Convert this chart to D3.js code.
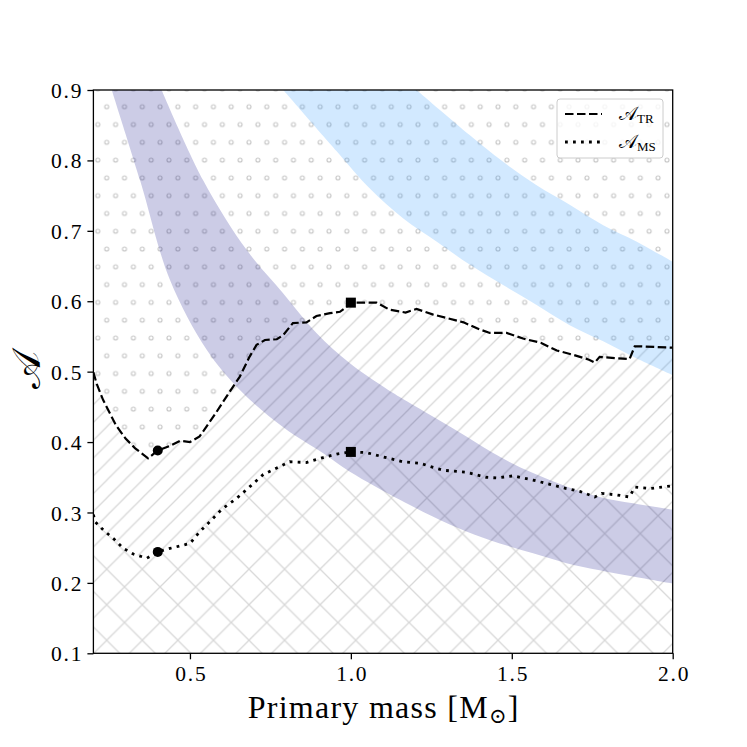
<!DOCTYPE html>
<html><head><meta charset="utf-8">
<script src="https://cdn.jsdelivr.net/npm/d3@7"></script>
<style>body{margin:0;background:#fff}</style>
</head><body>
<svg id="chart" width="747" height="747"></svg>
<script>
// ---------------- data ----------------
const trMass = [0.20,0.21,0.23,0.27,0.30,0.33,0.37,0.40,0.44,0.47,0.50,0.53,0.58,0.62,0.655,0.685,0.707,0.733,0.77,0.79,0.82,0.862,0.893,0.935,0.966,0.981,1.00,1.04,1.08,1.12,1.17,1.204,1.256,1.30,1.35,1.40,1.432,1.484,1.535,1.59,1.64,1.69,1.74,1.758,1.773,1.825,1.866,1.882,1.90,1.95,2.00];
const trA    = [0.499,0.483,0.460,0.424,0.405,0.391,0.377,0.388,0.395,0.402,0.400,0.408,0.441,0.469,0.493,0.521,0.538,0.545,0.546,0.552,0.569,0.570,0.579,0.583,0.585,0.590,0.598,0.598,0.598,0.588,0.584,0.589,0.581,0.576,0.570,0.560,0.555,0.555,0.547,0.541,0.530,0.524,0.517,0.513,0.521,0.519,0.518,0.536,0.536,0.535,0.534];

const msMass = [0.20,0.205,0.231,0.267,0.293,0.324,0.366,0.40,0.438,0.50,0.531,0.562,0.60,0.645,0.687,0.728,0.76,0.81,0.862,0.914,0.956,1.00,1.049,1.10,1.162,1.214,1.256,1.287,1.359,1.421,1.452,1.504,1.566,1.618,1.67,1.711,1.758,1.779,1.825,1.866,1.882,1.929,2.00];
const msA    = [0.297,0.287,0.275,0.261,0.249,0.241,0.235,0.244,0.249,0.256,0.273,0.287,0.305,0.320,0.337,0.354,0.361,0.372,0.371,0.378,0.383,0.386,0.385,0.379,0.372,0.370,0.364,0.360,0.357,0.350,0.349,0.352,0.346,0.340,0.334,0.330,0.322,0.327,0.325,0.322,0.336,0.334,0.338];

const purpleUpMass  = [0.412,0.541,0.676,0.790,0.893,0.997,1.100,1.152,1.256,1.359,1.463,1.566,1.670,1.773,1.877,2.0];
const purpleUpA     = [0.900,0.772,0.673,0.611,0.555,0.512,0.479,0.464,0.436,0.408,0.379,0.356,0.337,0.322,0.313,0.304];
const purpleLowMass = [0.257,0.345,0.438,0.552,0.655,0.790,0.914,0.997,1.152,1.256,1.359,1.463,1.566,1.670,1.773,1.877,2.0];
const purpleLowA    = [0.900,0.772,0.630,0.531,0.474,0.421,0.384,0.358,0.318,0.294,0.273,0.256,0.242,0.228,0.218,0.209,0.199];

const blueUpMass  = [1.204,1.369,1.473,1.576,1.680,1.784,1.887,2.0];
const blueUpA     = [0.900,0.836,0.798,0.765,0.737,0.708,0.685,0.656];
const blueLowMass = [0.790,0.956,1.059,1.162,1.266,1.369,1.473,1.576,1.680,1.784,1.887,2.0];
const blueLowA    = [0.900,0.813,0.760,0.718,0.685,0.652,0.623,0.595,0.566,0.543,0.519,0.495];

const circleMass = [0.4,0.4], circleA = [0.388,0.244];
const squareMass = [1.0,1.0], squareA = [0.598,0.386];

const xTicks = [0.5,1.0,1.5,2.0], xTickLabels = ["0.5","1.0","1.5","2.0"];
const yTicks = [0.1,0.2,0.3,0.4,0.5,0.6,0.7,0.8,0.9], yTickLabels = ["0.1","0.2","0.3","0.4","0.5","0.6","0.7","0.8","0.9"];
const xDomain = [0.2,2.0], yDomain = [0.1,0.9];
const legendMain = ["𝒜","𝒜"], legendSub = ["TR","MS"], legendDash = ["8.5,3.5","2.8,5.2"];

// ---------------- layout ----------------
const L = 93.4, R = 672.7, T = 90, B = 653.3;
const x = d3.scaleLinear(xDomain,[L,R]);
const y = d3.scaleLinear(yDomain,[B,T]);
const svg = d3.select("#chart");
const serif = "'Liberation Serif','DejaVu Serif',serif";

const defs = svg.append("defs");
defs.append("clipPath").attr("id","plotclip").append("rect")
  .attr("x",L).attr("y",T).attr("width",R-L).attr("height",B-T);

const hatchLine = "#d8d8d8", hatchW = 1.3;
// dots hatch
const ds = 17.786;
const pd = defs.append("pattern").attr("id","dots").attr("patternUnits","userSpaceOnUse")
  .attr("x",0).attr("y",0).attr("width",ds).attr("height",2*ds);
[[0,0],[ds,0],[0,2*ds],[ds,2*ds],[ds/2,ds]].forEach(p=>{
  pd.append("circle").attr("cx",p[0]).attr("cy",p[1]).attr("r",2.0)
    .attr("fill","none").attr("stroke","#c6c6c6").attr("stroke-width",1.1);
});
// diagonal hatch
const pdiag = defs.append("pattern").attr("id","diag").attr("patternUnits","userSpaceOnUse")
  .attr("x",0).attr("y",0).attr("width",ds).attr("height",ds);
pdiag.append("path").attr("d",`M-3,3L3,-3M0,${ds}L${ds},0M${ds-3},${ds+3}L${ds+3},${ds-3}`)
  .attr("stroke",hatchLine).attr("stroke-width",hatchW).attr("fill","none");
// cross hatch
const H = 2*ds;
const pcross = defs.append("pattern").attr("id","cross").attr("patternUnits","userSpaceOnUse")
  .attr("x",0).attr("y",0).attr("width",H).attr("height",H);
pcross.append("path").attr("d",
  `M-3,3L3,-3M0,${H}L${H},0M${H-3},${H+3}L${H+3},${H-3}`+
  `M0,0L${H},${H}M-3,${H-3}L3,${H+3}M${H-3},-3L${H+3},3`)
  .attr("stroke",hatchLine).attr("stroke-width",hatchW).attr("fill","none");

const g = svg.append("g").attr("clip-path","url(#plotclip)");
const pts = (ms,as)=>ms.map((m,i)=>[x(m),y(as[i])]);
const tr = pts(trMass,trA), ms = pts(msMass,msA);
const lin = d3.line();

// hatched regions
g.append("path").attr("fill","url(#dots)")
  .attr("d", lin([[x(xDomain[0]),y(yDomain[1])],[x(xDomain[1]),y(yDomain[1])], ...tr.slice().reverse()])+"Z");
g.append("path").attr("fill","url(#diag)")
  .attr("d", lin([...tr, ...ms.slice().reverse()])+"Z");
g.append("path").attr("fill","url(#cross)")
  .attr("d", lin([...ms,[x(xDomain[1]),y(yDomain[0])],[x(xDomain[0]),y(yDomain[0])]])+"Z");

// bands
const cl = d3.line().curve(d3.curveCatmullRom);
function bandPath(um,ua,lm,la){
  const up = pts(um,ua), lo = pts(lm,la).reverse();
  return cl(up) + cl(lo).replace(/^M/,"L") + "Z";
}
g.append("path").attr("d",bandPath(purpleUpMass,purpleUpA,purpleLowMass,purpleLowA))
  .attr("fill","#000080").attr("fill-opacity",0.2);
g.append("path").attr("d",bandPath(blueUpMass,blueUpA,blueLowMass,blueLowA))
  .attr("fill","#1e90ff").attr("fill-opacity",0.2);

// curves
g.append("path").attr("d",lin(tr)).attr("fill","none").attr("stroke","#000")
  .attr("stroke-width",2.2).attr("stroke-dasharray",legendDash[0]);
g.append("path").attr("d",lin(ms)).attr("fill","none").attr("stroke","#000")
  .attr("stroke-width",2.8).attr("stroke-dasharray",legendDash[1]);

// markers
svg.selectAll("circle.mk").data(circleMass).enter().append("circle").attr("class","mk")
  .attr("cx",d=>x(d)).attr("cy",(d,i)=>y(circleA[i])).attr("r",5).attr("fill","#000");
svg.selectAll("rect.mk").data(squareMass).enter().append("rect").attr("class","mk")
  .attr("x",d=>x(d)-5).attr("y",(d,i)=>y(squareA[i])-5).attr("width",10).attr("height",10).attr("fill","#000");

// frame
svg.append("rect").attr("x",L).attr("y",T).attr("width",R-L).attr("height",B-T)
  .attr("fill","none").attr("stroke","#000").attr("stroke-width",1.3);

// axes
const xa = svg.append("g").attr("transform",`translate(0,${B})`)
  .call(d3.axisBottom(x).tickValues(xTicks).tickFormat((d,i)=>xTickLabels[i]).tickSize(6).tickPadding(6));
const ya = svg.append("g").attr("transform",`translate(${L},0)`)
  .call(d3.axisLeft(y).tickValues(yTicks).tickFormat((d,i)=>yTickLabels[i]).tickSize(6).tickPadding(6));
[xa,ya].forEach(a=>{
  a.select(".domain").remove();
  a.selectAll("line").attr("stroke","#000").attr("stroke-width",1.3);
  a.selectAll("text").attr("font-family",serif).attr("font-size",21.5).attr("fill","#000")
    .attr("letter-spacing","1.8px");
});
ya.selectAll("text").attr("dy","0.35em").attr("dx","1.8");
xa.selectAll("text").attr("dx","0.9");

// x label
const xl = svg.append("text").attr("x",(L+R)/2).attr("y",718).attr("text-anchor","middle")
  .attr("font-family",serif).attr("font-size",32).attr("fill","#000");
xl.append("tspan").text("Primary mass [M");
xl.append("tspan").attr("font-size",21).attr("dy",5).text("⊙");
xl.append("tspan").attr("dy",-5).text("]");
{
  const w = xl.node().getComputedTextLength();
  const target = 272, n = 17;
  const sp = (target - w) / n;
  if (sp > 0) xl.attr("letter-spacing", sp + "px").attr("dx", sp/2);
}

// y label
svg.append("text").attr("transform","translate(40,370) rotate(-90)").attr("text-anchor","middle")
  .attr("font-family",serif).attr("font-size",40).attr("fill","#000").text("𝒜");

// legend
const lg = svg.append("g");
lg.append("rect").attr("x",557).attr("y",99).attr("width",106).attr("height",59).attr("rx",3)
  .attr("fill","#fff").attr("fill-opacity",0.8).attr("stroke","#cccccc").attr("stroke-width",1);
legendMain.forEach((t,i)=>{
  const yy = 114 + i*28;
  lg.append("line").attr("x1",565).attr("x2",602).attr("y1",yy).attr("y2",yy)
    .attr("stroke","#000").attr("stroke-width",i?2.8:2.2).attr("stroke-dasharray",legendDash[i]);
  const tx = lg.append("text").attr("x",619).attr("y",yy+6).attr("font-family",serif)
    .attr("font-size",19).attr("fill","#000");
  tx.append("tspan").text(t);
  tx.append("tspan").attr("font-size",13).attr("dy",3).text(legendSub[i]);
});
</script>
</body></html>
